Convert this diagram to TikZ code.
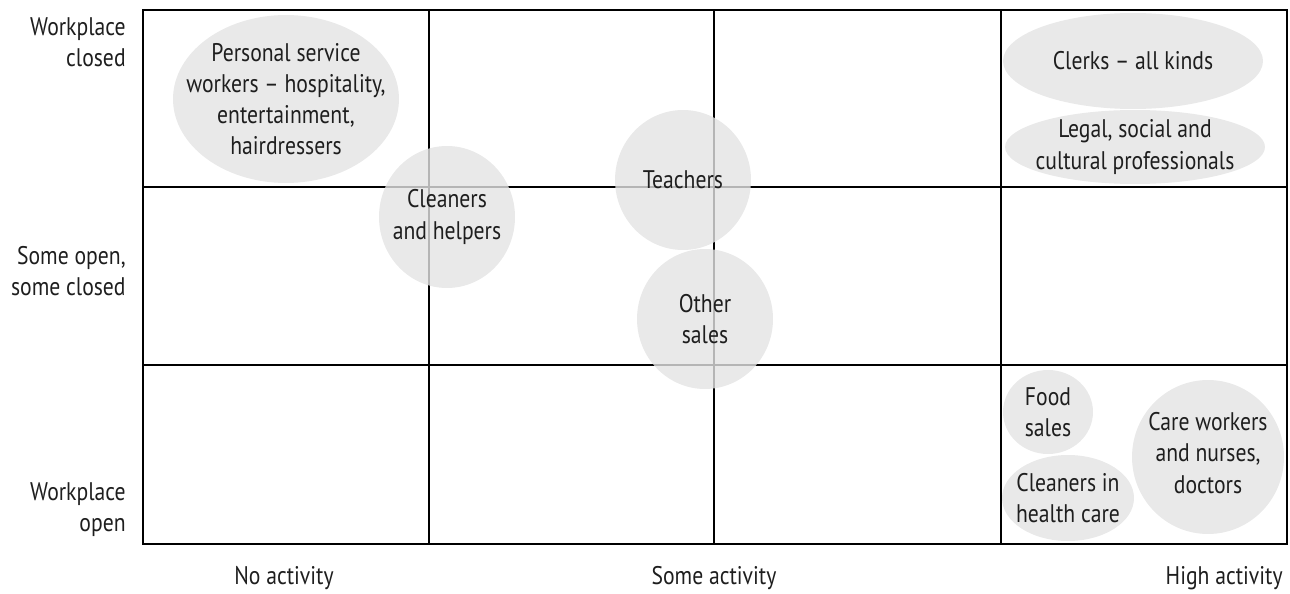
\documentclass[tikz,border=0pt]{standalone}
\usepackage{fontspec}
\setmainfont[FakeStretch=0.85]{PT Sans}
\usetikzlibrary{shapes.geometric}
\definecolor{blobgray}{HTML}{E3E3E3}
\definecolor{inkgray}{HTML}{1E1E1E}
\tikzset{
	blob/.style={ellipse, fill=blobgray, fill opacity=0.8, inner sep=0pt},
	txt/.style={align=center, inner sep=0pt, font=\fontsize{14.5}{17.7}\selectfont, text=inkgray},
	rowlabel/.style={txt, align=right, anchor=east},
	heavy/.style={line width=1.1pt},
	light/.style={line width=0.6pt}
}

\begin{document}
\begin{tikzpicture}[x=0.02cm,y=-0.02cm]
	\useasboundingbox (0,0) rectangle (1290,594);

	\draw[heavy] (143,10) rectangle (1287,544);
	\draw[heavy] (429,10)--(429,544) (1001,10)--(1001,544) (143,365)--(1287,365);
	\draw[light] (714,10)--(714,544) (143,187)--(1287,187);

	\node[blob, minimum width=4.52cm, minimum height=3.36cm] at (286,99)(pers){};
	\node[blob, minimum width=2.72cm, minimum height=2.84cm] at (447,217)(clean){};
	\node[blob, minimum width=2.72cm, minimum height=2.8cm] at (683,180)(teach){};
	\node[blob, minimum width=2.72cm, minimum height=2.8cm] at (705,319)(other){};
	\node[blob, minimum width=5.2cm, minimum height=1.92cm] at (1133,61)(clerk){};
	\node[blob, minimum width=5.2cm, minimum height=1.48cm] at (1135,147)(legal){};
	\node[blob, minimum width=1.8cm, minimum height=1.68cm] at (1048,412)(food){};
	\node[blob, minimum width=2.64cm, minimum height=1.72cm] at (1068,498)(hcare){};
	\node[blob, minimum width=3.04cm, minimum height=3.08cm] at (1208,457)(care){};

	\node[txt] at (pers)(pers-t){Personal service\\workers -- hospitality,\\entertainment,\\hairdressers};
	\node[txt] at (clean)(clean-t){Cleaners\\and helpers};
	\node[txt] at (teach)(teach-t){Teachers};
	\node[txt] at (other)(other-t){Other\\sales};
	\node[txt] at (clerk)(clerk-t){Clerks -- all kinds};
	\node[txt] at (legal)(legal-t){Legal, social and\\cultural professionals};
	\node[txt] at (food)(food-t){Food\\sales};
	\node[txt] at (hcare)(hcare-t){Cleaners in\\health care};
	\node[txt] at (1208,453)(care-t){Care workers\\and nurses,\\doctors};

	\node[rowlabel] at (126,42)(closed){Workplace\\closed};
	\node[rowlabel] at (126,271)(some){Some open,\\some closed};
	\node[rowlabel] at (126,510)(open){Workplace\\open};

	\node[txt] at (284,578)(none){No activity};
	\node[txt] at (714,578)(someact){Some activity};
	\node[txt, anchor=east] at (1283,578)(high){High activity};
\end{tikzpicture}
\end{document}
